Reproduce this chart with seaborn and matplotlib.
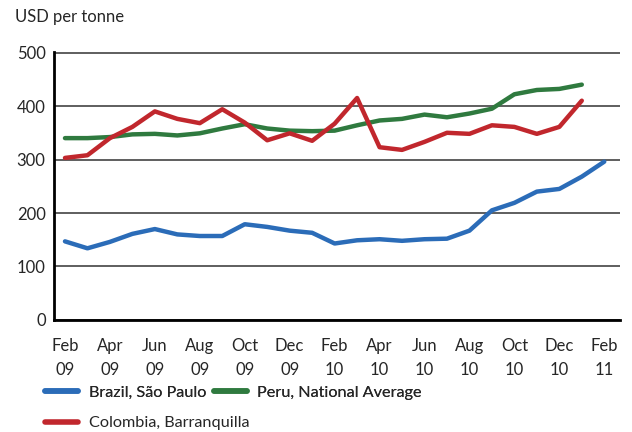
import numpy as np
import pandas as pd
import matplotlib
matplotlib.use("Agg")
import matplotlib.pyplot as plt
import seaborn as sns
from matplotlib.lines import Line2D

months = ["Feb 09", "Mar 09", "Apr 09", "May 09", "Jun 09", "Jul 09", "Aug 09", "Sep 09",
          "Oct 09", "Nov 09", "Dec 09", "Jan 10", "Feb 10", "Mar 10", "Apr 10", "May 10",
          "Jun 10", "Jul 10", "Aug 10", "Sep 10", "Oct 10", "Nov 10", "Dec 10", "Jan 11", "Feb 11"]
tick_labels = ["Feb\n09", "Apr\n09", "Jun\n09", "Aug\n09", "Oct\n09", "Dec\n09", "Feb\n10",
               "Apr\n10", "Jun\n10", "Aug\n10", "Oct\n10", "Dec\n10", "Feb\n11"]

brazil = [147, 134, 146, 161, 170, 160, 157, 157, 179, 174, 167, 163, 143, 149, 151, 148,
          151, 152, 167, 205, 219, 240, 245, 268, 296]
colombia = [303, 308, 340, 361, 390, 376, 368, 394, 369, 336, 349, 335, 367, 415, 323, 318,
            333, 350, 348, 364, 361, 348, 361, 410]
peru = [340, 340, 342, 347, 348, 345, 349, 358, 366, 358, 354, 353, 354, 364, 373, 376,
        384, 379, 386, 395, 422, 430, 432, 440]

series_names = ["Brazil, São Paulo", "Peru, National Average", "Colombia, Barranquilla"]
colors = ["#2b6cb8", "#2f7a3f", "#c1272d"]

rows = []
for name, vals in zip(series_names, [brazil, peru, colombia]):
    for i, v in enumerate(vals):
        rows.append({"idx": i, "value": v, "series": name})
df = pd.DataFrame(rows)

sns.set_style("white")
plt.rcParams['font.family'] = ['Lato', 'DejaVu Sans']

fig = plt.figure(figsize=(6.32, 4.32), dpi=100)
ax = fig.add_axes([0.0854, 0.2593, 0.8956, 0.6203])

sns.lineplot(data=df, x="idx", y="value", hue="series", hue_order=series_names,
             palette=colors, linewidth=3.2, ax=ax, legend=False)

ax.set_ylim(0, 501)
ax.set_xlim(-0.49, 24.7)
ax.set_yticks([0, 100, 200, 300, 400, 500])
ax.set_yticklabels(["0", "100", "200", "300", "400", "500"], fontsize=12)
ax.yaxis.grid(True, color="#333333", linewidth=1.1)
ax.set_axisbelow(True)
ax.tick_params(axis="y", length=0, pad=6)

ax.set_xticks(range(0, 25, 2))
ax.set_xticklabels(tick_labels, fontsize=12, linespacing=1.65)
ax.set_xticks(range(1, 25, 2), minor=True)
ax.tick_params(axis="x", which="major", direction="out", length=10, width=2, color="black", pad=3)
ax.tick_params(axis="x", which="minor", direction="out", length=5, width=2, color="black")

for s in ["top", "right"]:
    ax.spines[s].set_visible(False)
for s in ["left", "bottom"]:
    ax.spines[s].set_color("black")
    ax.spines[s].set_linewidth(2)

ax.set_xlabel("")
ax.set_ylabel("")

fig.text(0.024, 0.96, "USD per tonne", fontsize=12, va="center", ha="left")

handles = {n: Line2D([0], [0], color=c, linewidth=4) for n, c in zip(series_names, colors)}
leg1 = fig.legend(handles=[handles[series_names[0]], handles[series_names[1]]],
                  labels=[series_names[0], series_names[1]],
                  ncol=2, loc="center left", bbox_to_anchor=(0.0712, 0.0903),
                  frameon=False, fontsize=11.7, handlelength=2.05, columnspacing=0.45,
                  handletextpad=0.65, borderpad=0, borderaxespad=0)
fig.add_artist(leg1)
leg2 = fig.legend(handles=[handles[series_names[2]]], labels=[series_names[2]],
                  loc="center left", bbox_to_anchor=(0.0712, 0.0208),
                  frameon=False, fontsize=11.7, handlelength=2.05,
                  handletextpad=0.65, borderpad=0, borderaxespad=0)

fig.savefig("out.png", dpi=100)
